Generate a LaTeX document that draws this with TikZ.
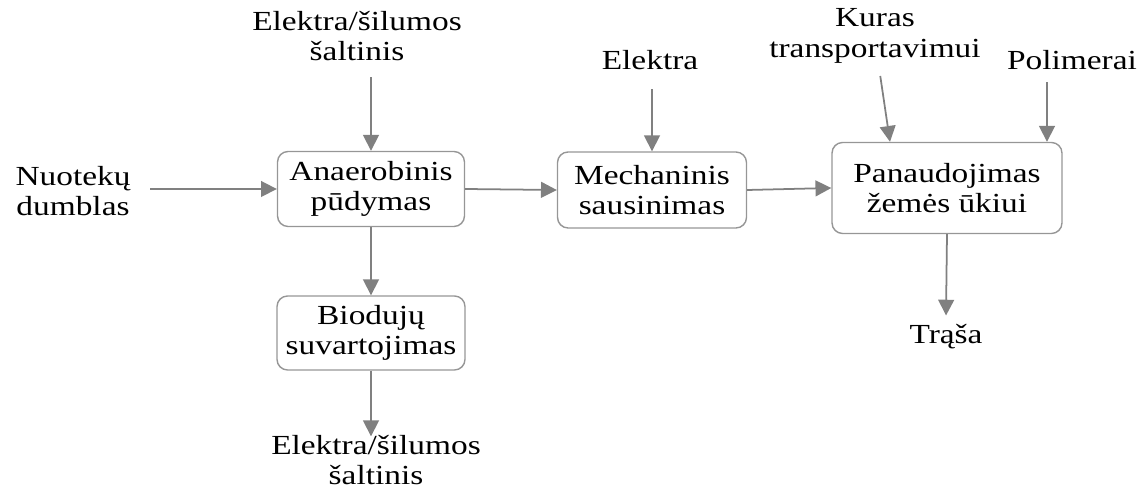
\documentclass[tikz,border=0pt]{standalone}
\usepackage{fontspec}
\setmainfont{Liberation Serif}[FakeStretch=1.21]
\usetikzlibrary{arrows.meta}
\definecolor{linegray}{RGB}{128,128,128}
\definecolor{boxgray}{RGB}{150,150,150}
\tikzset{
  stage/.style={draw=boxgray, line width=0.8pt, rounded corners=6pt, align=center, inner sep=0pt},
  lbl/.style={align=center, inner sep=1pt},
  flow/.style={draw=linegray, line width=1pt, -{Triangle[length=9pt, width=9pt]}}
}
\begin{document}
\begin{tikzpicture}[x=0.02cm, y=-0.02cm, font=\fontsize{15.7}{17.5}\selectfont]
  \useasboundingbox (0,0) rectangle (1144,492);
  % boxes
  \node[stage, minimum width=3.74cm, minimum height=1.5cm] (anaer) at (371,189) {Anaerobinis\\pūdymas};
  \node[stage, minimum width=3.78cm, minimum height=1.52cm] (mech) at (652,190) {Mechaninis\\sausinimas};
  \node[stage, minimum width=4.6cm, minimum height=1.82cm] (panaud) at (947,188) {Panaudojimas\\žemės ūkiui};
  \node[stage, minimum width=3.76cm, minimum height=1.48cm] (biod) at (371,333) {Biodujų\\suvartojimas};
  % texts
  \node[lbl] (src) at (357,36) {Elektra/šilumos\\šaltinis};
  \node[lbl] (nuot) at (73,191) {Nuotekų\\dumblas};
  \node[lbl] (elek) at (650,60) {Elektra};
  \node[lbl] (kuras) at (875,36) {Kuras\\transportavimui};
  \node[lbl] (polim) at (1072,60) {Polimerai};
  \node[lbl] (trasa) at (946,337) {Trąša};
  \node[lbl] (out) at (376,460) {Elektra/šilumos\\šaltinis};
  % arrows
  \draw[flow] (anaer.north |- src.south) ++(0,14) -- (anaer.north);
  \draw[flow] ([xshift=10pt]nuot.east |- anaer.west) -- (anaer.west);
  \draw[flow] (anaer.east) -- (mech.west);
  \draw[flow] ([yshift=-10pt]elek.south -| mech.north) -- (mech.north);
  \draw[flow] (mech.east) -- (panaud.west);
  \draw[flow] ([xshift=3pt, yshift=-6pt]kuras.south) -- (panaud.north -| 890,0);
  \draw[flow] ([yshift=-6pt]polim.south -| 1047,0) -- (panaud.north -| 1047,0);
  \draw[flow] (panaud.south) -- ([yshift=4pt]trasa.north);
  \draw[flow] (anaer.south) -- (biod.north);
  \draw[flow] (biod.south) -- ([yshift=-2pt]out.north -| biod.south);
\end{tikzpicture}
\end{document}
